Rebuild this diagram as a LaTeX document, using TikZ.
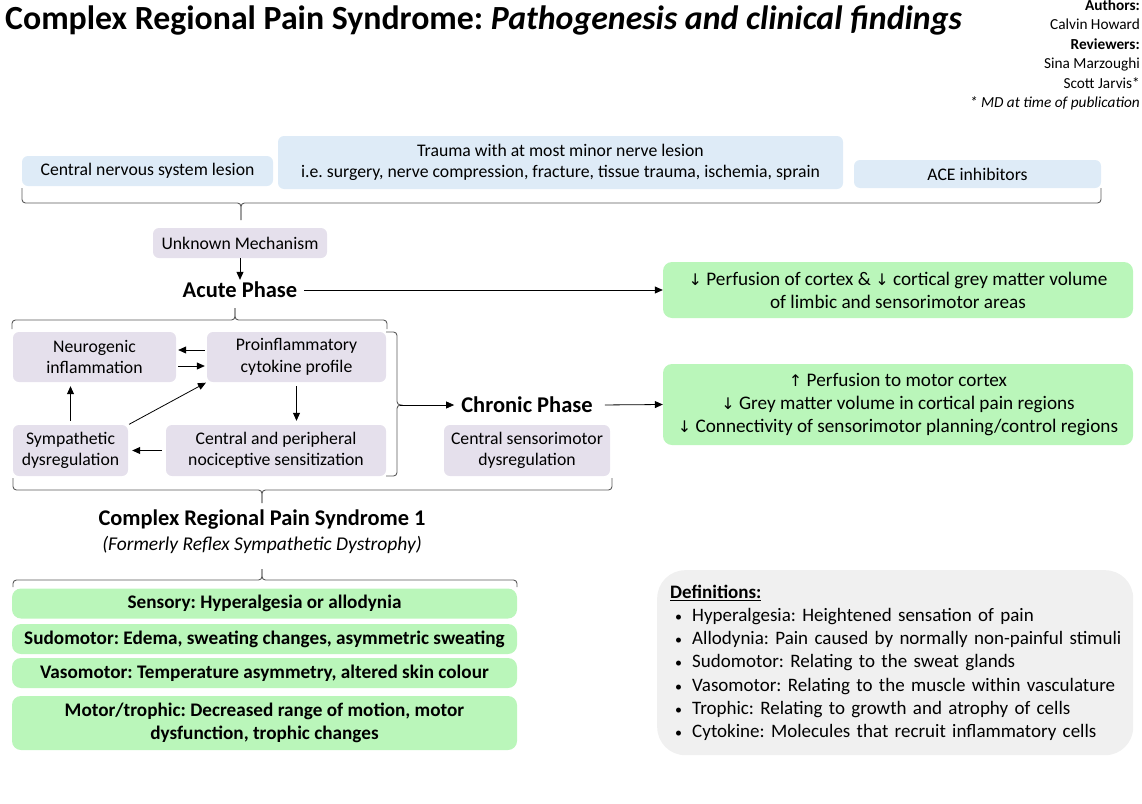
\documentclass[tikz,border=0pt]{standalone}
\usepackage{fontspec}
\setmainfont{Carlito}
\newfontfamily\arrowfont{DejaVu Sans}
\usetikzlibrary{arrows.meta}
\definecolor{cblue}{HTML}{DEEBF7}
\definecolor{cpurple}{HTML}{E5E0EC}
\definecolor{cgreen}{HTML}{BAF6BA}
\definecolor{cgray}{HTML}{F0F0F0}
\definecolor{cbrace}{HTML}{5A5A5A}
\newcommand\bodyfs{\fontsize{17.7}{21.5}\selectfont}
\newcommand\greenfs{\fontsize{19.2}{23}\selectfont}
\newcommand\arrdn{{\arrowfont\fontsize{16}{16}\selectfont\char"2193}}
\newcommand\arrup{{\arrowfont\fontsize{16}{16}\selectfont\char"2191}}
\newcommand\bul{\hspace*{11pt}\makebox[17pt][l]{\fontsize{14}{14}\selectfont•}}
\frenchspacing
\begin{document}
\frenchspacing
\begin{tikzpicture}[x=1pt,y=-1pt,
  box/.style={rounded corners=6pt, inner sep=0pt, align=center, font=\bodyfs},
  bluebox/.style={box, fill=cblue},
  purplebox/.style={box, fill=cpurple},
  greenbox/.style={box, fill=cgreen, rounded corners=9pt, font=\greenfs},
  boldgreen/.style={greenbox, font=\greenfs\bfseries},
  phase/.style={font=\fontsize{22.5}{26}\selectfont\bfseries, inner xsep=7pt, inner ysep=2pt},
  arr/.style={-{Triangle[length=8pt,width=7pt]}, line width=0.8pt, black},
  bracedraw/.style={draw=cbrace, line width=0.9pt, rounded corners=3.5pt},
]
\path[use as bounding box] (0,0) rectangle (1142,803);

% title and authors
\node[anchor=west, inner sep=0pt, font=\fontsize{33.8}{40}\selectfont\bfseries] (title) at (5,20)
  {Complex Regional Pain Syndrome: \textit{Pathogenesis and clinical findings}};
\node[anchor=north east, align=right, inner sep=0pt, font=\fontsize{15.3}{19.5}\selectfont] (authors) at (1140,-0.5)
  {\textbf{Authors:}\\Calvin Howard\\\textbf{Reviewers:}\\Sina Marzoughi\\Scott Jarvis*\\\textit{* MD at time of publication}};

% causes
\node[bluebox, minimum width=251pt, minimum height=30pt] (cns) at (147.5,171) {Central nervous system lesion};
\node[bluebox, minimum width=565pt, minimum height=53pt] (trauma) at (560.5,162.5)
  {Trauma with at most minor nerve lesion\\i.e. surgery, nerve compression, fracture, tissue trauma, ischemia, sprain};
\node[bluebox, minimum width=247pt, minimum height=28pt] (ace) at (977.5,174) {ACE inhibitors};

% top brace (tip down)
\coordinate (b1tip) at (241,220);
\draw[bracedraw] (22,188) |- (241,203) -- (b1tip);
\draw[bracedraw] (1101,188) |- (241,203) -- (b1tip);

\node[purplebox, minimum width=174pt, minimum height=30pt] (unknown) at (240,243) {Unknown Mechanism};
\node[phase] (acute) at (240,290) {Acute Phase};
\draw[arr] (unknown.south) -- (acute.north);

\node[greenbox, minimum width=470pt, minimum height=56pt] (g1) at (898,290)
  {\arrdn\ Perfusion of cortex \& \arrdn\ cortical grey matter volume\\of limbic and sensorimotor areas};
\draw[arr] (acute.east) -- (g1.west);

% acute brace (tip up)
\coordinate (b2tip) at (235,308);
\draw[bracedraw] (12,329) |- (235,320) -- (b2tip);
\draw[bracedraw] (387,329) |- (235,320) -- (b2tip);

% acute cycle
\node[purplebox, minimum width=163pt, minimum height=50pt] (neuro) at (94.5,357) {Neurogenic\\inflammation};
\node[purplebox, minimum width=179pt, minimum height=50pt] (proin) at (296.5,357) {Proinflammatory\\cytokine profile};
\node[purplebox, minimum width=115pt, minimum height=51pt] (symp) at (70.5,450.5) {Sympathetic\\dysregulation};
\node[purplebox, minimum width=220pt, minimum height=51pt] (cps) at (276,450.5) {Central and peripheral\\nociceptive sensitization};

\draw[arr, shorten <=2pt, shorten >=2pt] ([yshift=7pt]proin.west) -- ([yshift=7pt]neuro.east);
\draw[arr, shorten <=2pt, shorten >=2pt] ([yshift=-9pt]neuro.east) -- ([yshift=-9pt]proin.west);
\draw[arr, shorten <=4pt, shorten >=4pt] (proin.south) -- (proin.south |- cps.north);
\draw[arr, shorten <=4pt, shorten >=4pt] (cps.west) -- (symp.east);
\draw[arr, shorten <=4pt, shorten >=4pt] (symp.north) -- (symp.north |- neuro.south);
\draw[arr, shorten <=1pt, shorten >=1pt] (symp.north east) -- (proin.south west);

% right brace (tip right)
\coordinate (rtip) at (400,405);
\draw[bracedraw] (386,332) -| (397,405) -- (rtip);
\draw[bracedraw] (386,476) -| (397,405) -- (rtip);

\node[phase] (chronic) at (527,405) {Chronic Phase};
\draw[arr] (rtip) -- (chronic.west);
\node[purplebox, minimum width=166pt, minimum height=51pt] (csd) at (527,450.5) {Central sensorimotor\\dysregulation};

\node[greenbox, minimum width=470pt, minimum height=81pt] (g2) at (898,404.5)
  {\arrup\ Perfusion to motor cortex\\\arrdn\ Grey matter volume in cortical pain regions\\\arrdn\ Connectivity of sensorimotor planning/control regions};
\draw[arr, shorten <=5pt] (chronic.east) -- (g2.west);

% CRPS brace (tip down)
\coordinate (b3tip) at (262,503);
\draw[bracedraw] (13,478) |- (262,490) -- (b3tip);
\draw[bracedraw] (612,478) |- (262,490) -- (b3tip);

\node[inner sep=0pt, font=\fontsize{22.4}{26}\selectfont\bfseries] (crps) at (262,520) {Complex Regional Pain Syndrome 1};
\node[inner sep=0pt, font=\fontsize{19.5}{23}\selectfont\itshape] (formerly) at (262,545) {(Formerly Reflex Sympathetic Dystrophy)};

% findings brace (tip up)
\coordinate (b4tip) at (262,569);
\draw[bracedraw] (13,587) |- (262,580) -- (b4tip);
\draw[bracedraw] (517,587) |- (262,580) -- (b4tip);

\node[boldgreen, minimum width=505pt, minimum height=30pt] (sensory) at (264.5,603.5) {Sensory: Hyperalgesia or allodynia};
\node[boldgreen, minimum width=505pt, minimum height=30pt] (sudo) at (264.5,639) {Sudomotor: Edema, sweating changes, asymmetric sweating};
\node[boldgreen, minimum width=505pt, minimum height=30pt] (vaso) at (264.5,673) {Vasomotor: Temperature asymmetry, altered skin colour};
\node[boldgreen, minimum width=505pt, minimum height=54pt] (motor) at (264.5,723) {Motor/trophic: Decreased range of motion, motor\\dysfunction, trophic changes};

% definitions
\node[fill=cgray, rounded corners=28pt, anchor=north west, minimum width=476pt, minimum height=185pt,
      text width=462pt, inner xsep=7pt, inner ysep=0pt, align=left, font=\fontsize{19}{23.2}\selectfont] (defs) at (657,570)
  {\hspace*{6pt}\textbf{\underline{Definitions:}}\\
   \bul Hyperalgesia: Heightened sensation of pain\\
   \bul Allodynia: Pain caused by normally non-painful stimuli\\
   \bul Sudomotor: Relating to the sweat glands\\
   \bul Vasomotor: Relating to the muscle within vasculature\\
   \bul Trophic: Relating to growth and atrophy of cells\\
   \bul Cytokine: Molecules that recruit inflammatory cells};
\end{tikzpicture}
\end{document}
